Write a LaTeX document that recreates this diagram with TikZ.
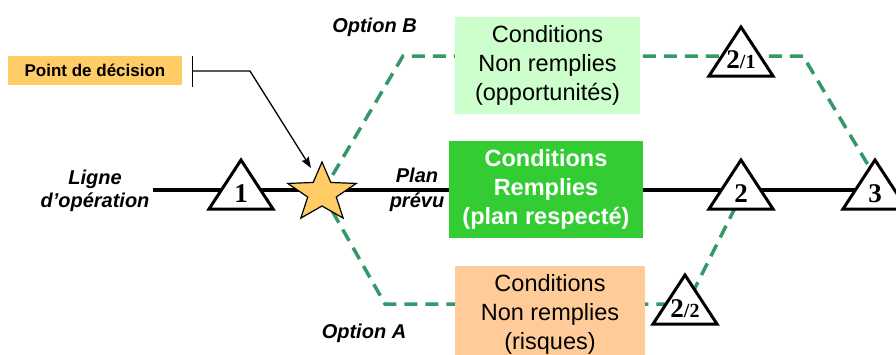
\documentclass[tikz,border=0pt]{standalone}
\usepackage{fontspec}
\setmainfont{Liberation Sans}
\newfontfamily\numfont{Liberation Serif}
\usetikzlibrary{calc,arrows.meta}
\definecolor{ptorange}{HTML}{FFCC66}
\definecolor{lgreen}{HTML}{CCFFCC}
\definecolor{vgreen}{HTML}{33CC33}
\definecolor{lorange}{HTML}{FFCC99}
\definecolor{dgreen}{HTML}{339966}
\begin{document}
\begin{tikzpicture}[x=1pt,y=-1pt,
  tribox/.style={draw=black,line width=3pt,fill=white,line join=miter},
  optline/.style={draw=dgreen,line width=3.5pt,dash pattern=on 13pt off 8pt},
  mainline/.style={draw=black,line width=3.5pt},
  bigtext/.style={font=\fontsize{23.5}{29}\selectfont,align=center,inner sep=0pt},
  condbox/.style={bigtext,minimum height=97pt},
  optlabel/.style={font=\bfseries\itshape\fontsize{20}{23}\selectfont,align=center,inner sep=0pt},
  numlbl/.style={font=\numfont\bfseries\fontsize{27}{27}\selectfont,inner sep=0pt,anchor=base},
  starst/.style={draw=black,line width=1.2pt,fill=ptorange,line join=miter},
  callout/.style={draw=black,line width=1.3pt,{Bar[width=31pt]}-{Stealth[length=11pt,width=8pt,inset=1.5pt]}}
]
\clip (0,0) rectangle (896,354);

% key coordinates
\coordinate (S) at (322,193);
\coordinate (T1) at (241,209);
\coordinate (T2) at (741,209);
\coordinate (T3) at (875,209);
\coordinate (T21) at (741,76);
\coordinate (T22) at (685,324);
\coordinate (B1) at (403,56);
\coordinate (B2) at (803,56);
\coordinate (B3) at (874,175);
\coordinate (A1) at (385,304);
\coordinate (A2) at (687,304);
\coordinate (A3) at (741,196);
\coordinate (L0) at (153,190);
\coordinate (L1) at (875,190);

% option paths (dashed)
\draw[optline] (S) -- (B1) -- (B2) -- (B3);
\draw[optline] (S) -- (A1) -- (A2) -- (A3);

% main line
\draw[mainline] (L0) -- (L1);

% boxes
\node[condbox,fill=lgreen,minimum width=185pt] (nb) at (547.5,65.5) {Conditions\\Non remplies\\(opportunités)};
\node[condbox,fill=vgreen,minimum width=194pt,text=white,font=\bfseries\fontsize{23.5}{29}\selectfont] (rp) at (546,189.5) {Conditions\\Remplies\\(plan respecté)};
\node[condbox,fill=lorange,minimum width=190pt] (na) at (550,314.5) {Conditions\\Non remplies\\(risques)};

% triangles
\foreach \t in {T1,T2,T3,T21,T22}{
  \draw[tribox] (\t) ++(-32,0) -- ++(64,0) -- ++(-32,-49) -- cycle;
}
\node[numlbl] (n1) at ($(T1)+(0,-7)$) {1};
\node[numlbl] (n2) at ($(T2)+(0,-7)$) {2};
\node[numlbl] (n3) at ($(T3)+(0,-7)$) {3};
\node[numlbl] (n21) at ($(T21)+(0,-8)$) {2{\fontsize{20}{20}\selectfont/1}};
\node[numlbl] (n22) at ($(T22)+(0,-7)$) {2{\fontsize{20}{20}\selectfont/2}};

% star
\draw[starst] ($(S)+(-90:36 and 31)$) -- ($(S)+(-54:15 and 13)$)
  -- ($(S)+(-18:36 and 31)$) -- ($(S)+(18:15 and 13)$)
  -- ($(S)+(54:36 and 31)$) -- ($(S)+(90:15 and 13)$)
  -- ($(S)+(126:36 and 31)$) -- ($(S)+(162:15 and 13)$)
  -- ($(S)+(198:36 and 31)$) -- ($(S)+(234:15 and 13)$) -- cycle;

% decision point callout
\node[fill=ptorange,minimum width=174pt,minimum height=29pt,inner sep=0pt,font=\bfseries\fontsize{17}{20}\selectfont] (pd) at (95,70.5) {Point de décision};
\coordinate (K0) at (192,71);
\coordinate (K1) at (250,71);
\coordinate (K2) at (311,168);
\draw[callout] (K0) -- (K1) -- (K2);

% labels
\node[optlabel] (ob) at (374.5,27) {Option B};
\node[optlabel] (oa) at (364,333) {Option A};
\node[optlabel] (lo) at (95,191) {Ligne\\d’opération};
\node[optlabel,font=\bfseries\itshape\fontsize{20}{25}\selectfont] (pp) at (417,190) {Plan\\prévu};
\end{tikzpicture}
\end{document}
